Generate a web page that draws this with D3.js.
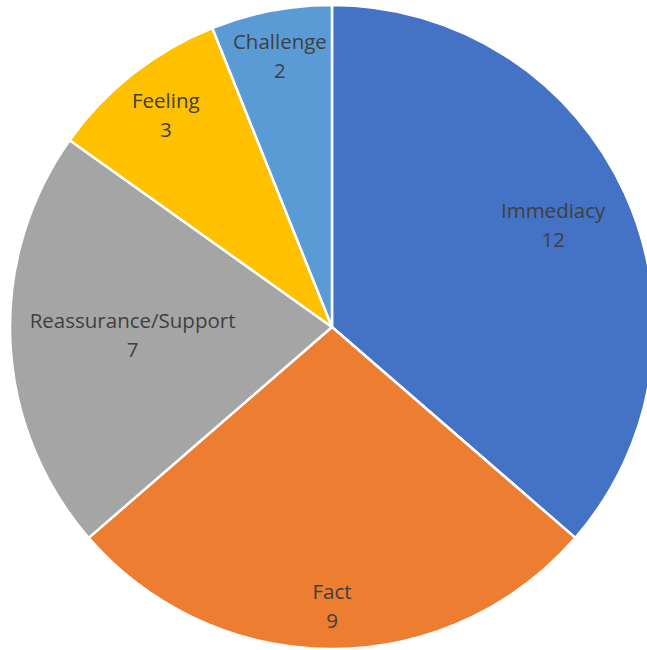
<!DOCTYPE html>
<html><head><meta charset="utf-8">
<script src="https://cdn.jsdelivr.net/npm/d3@7"></script>
<style>html,body{margin:0;padding:0;background:#fff;}</style>
</head><body>
<svg id="chart" width="647" height="650"></svg>
<script>
const categories = ["Immediacy", "Fact", "Reassurance/Support", "Feeling", "Challenge"];
const values = [12, 9, 7, 3, 2];
const colors = ["#4472C4", "#ED7D31", "#A5A5A5", "#FFC000", "#5B9BD5"];
// label distance from centre as fraction of radius (Excel best-fit placement)
const labelRadius = [0.755, 0.87, 0.62, 0.835, 0.855];

const svg = d3.select("#chart");
const cx = 332, cy = 327, R = 322;
const g = svg.append("g").attr("transform", `translate(${cx},${cy})`);
const data = categories.map((c, i) => ({cat: c, value: values[i], i}));
const pie = d3.pie().sort(null).value(d => d.value);
const arcs = pie(data);
const arc = d3.arc().innerRadius(0).outerRadius(R);

g.selectAll("path").data(arcs).join("path")
  .attr("d", arc)
  .attr("fill", d => colors[d.data.i])
  .attr("stroke", "#fff")
  .attr("stroke-width", 2.5)
  .attr("stroke-linejoin", "round");

const lbl = g.selectAll("text").data(arcs).join("text")
  .attr("text-anchor", "middle")
  .attr("font-family", "'Open Sans', Lato, sans-serif")
  .attr("font-size", 20.5)
  .attr("fill", "#404040")
  .attr("transform", d => {
    const a = (d.startAngle + d.endAngle) / 2;
    const r = R * labelRadius[d.data.i];
    return `translate(${r * Math.sin(a)},${-r * Math.cos(a)})`;
  });
lbl.append("tspan").attr("x", 0).attr("y", -8).text(d => d.data.cat);
lbl.append("tspan").attr("x", 0).attr("y", 21).text(d => d.data.value);
</script>
</body></html>
